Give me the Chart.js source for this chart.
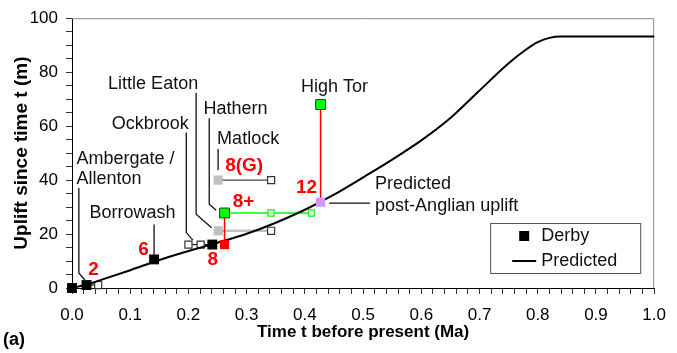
<!DOCTYPE html>
<html>
<head>
<meta charset="utf-8">
<script src="https://cdn.jsdelivr.net/npm/chart.js@4.4.1/dist/chart.umd.min.js"></script>
<style>
  html, body { margin: 0; padding: 0; background: #fff; }
  canvas { display: block; }
</style>
</head>
<body>
<canvas id="uplift" width="677" height="353"></canvas>
<script>
// Predicted uplift curve (time before present in Ma, uplift in m)
const predAge    = [0, 0.025, 0.05, 0.1, 0.15, 0.2, 0.25, 0.3, 0.35, 0.4, 0.45, 0.5, 0.55, 0.6, 0.65, 0.7, 0.75, 0.78, 0.8, 0.82, 0.84, 1.0];
const predUplift = [0, 1.3, 3.0, 6.6, 10.4, 13.7, 16.8, 20.1, 24.2, 29.0, 34.6, 41.0, 47.6, 54.7, 63.0, 73.2, 83.3, 88.4, 91.1, 92.7, 93.2, 93.2];

// Derby terrace sites
const derbyAge    = [0, 0.025, 0.141, 0.241];
const derbyUplift = [0, 1.1, 10.6, 16.1];
const derbyStage  = ['', '2', '6', '8'];

// Age ranges (older limits shown as open squares)
const ambergateAge     = [0.025, 0.045];
const ambergateUplift  = [1.1, 1.1];
const ockbrookAge      = [0.200, 0.221, 0.241];
const ockbrookUplift   = [16.1, 16.1, 16.1];
const littleEatonAge   = [0.251, 0.342];
const littleEatonUplift= [21.2, 21.2];
const matlockAge       = [0.251, 0.342];
const matlockUplift    = [40, 40];
const hathernAge       = [0.262, 0.342, 0.411];
const hathernUplift    = [27.8, 27.8, 27.8];

// Observed vs predicted pairs (observed on top, predicted below)
const hathernPairAge    = [0.262, 0.262];
const hathernPairUplift = [27.8, 16.1];
const highTorPairAge    = [0.427, 0.427];
const highTorPairUplift = [68, 31.8];

// Text labels
const siteNames = ['Ambergate /', 'Allenton', 'Borrowash', 'Ockbrook', 'Little Eaton', 'Hathern', 'Matlock', 'High Tor'];
const stageLabels = ['8+', '8(G)', '12'];
const postAnglianText = ['Predicted', 'post-Anglian uplift'];
const xTitle = 'Time t before present (Ma)';
const yTitle = 'Uplift since time t (m)';
const panelTag = '(a)';

const FONT = "'Liberation Sans', Arial, Helvetica, sans-serif";
const pts = (xs, ys) => xs.map((x, i) => ({ x, y: ys[i] }));

const GREEN = '#00ff00', RED = '#ff0000', GREY = '#c0c0c0', LILAC = '#cc99ff';

const datasets = [
  { label: 'Derby', data: pts(derbyAge, derbyUplift), showLine: false,
    pointStyle: 'rect', pointRadius: 7, pointBackgroundColor: '#000', pointBorderColor: '#000', pointBorderWidth: 0 },
  { label: 'High Tor', data: pts(highTorPairAge, highTorPairUplift), showLine: true,
    borderColor: RED, borderWidth: 1.5, pointStyle: 'rect', pointRadius: [7, 6.5],
    pointBackgroundColor: [GREEN, LILAC], pointBorderColor: ['#333', LILAC], pointBorderWidth: [1, 0] },
  { label: 'Hathern', data: pts(hathernPairAge, hathernPairUplift), showLine: true,
    borderColor: RED, borderWidth: 1.5, pointStyle: 'rect', pointRadius: [7, 6.5],
    pointBackgroundColor: [GREEN, RED], pointBorderColor: ['#333', RED], pointBorderWidth: [1, 0] },
  { label: 'Predicted', data: pts(predAge, predUplift), showLine: true,
    borderColor: '#000', borderWidth: 2, pointRadius: 0, cubicInterpolationMode: 'monotone' },
  { label: 'Hathern range', data: pts(hathernAge, hathernUplift), showLine: true,
    borderColor: GREEN, borderWidth: 1.5, pointStyle: 'rect', pointRadius: [0, 4.3, 4.3],
    pointBackgroundColor: '#fff', pointBorderColor: GREEN, pointBorderWidth: 1.2 },
  { label: 'Little Eaton range', data: pts(littleEatonAge, littleEatonUplift), showLine: true,
    borderColor: GREY, borderWidth: 2.5, pointStyle: 'rect', pointRadius: [6.5, 5],
    pointBackgroundColor: [GREY, '#fff'], pointBorderColor: [GREY, '#333'], pointBorderWidth: [0, 1.2] },
  { label: 'Matlock range', data: pts(matlockAge, matlockUplift), showLine: true,
    borderColor: '#444', borderWidth: 1.2, pointStyle: 'rect', pointRadius: [6.5, 5],
    pointBackgroundColor: [GREY, '#fff'], pointBorderColor: [GREY, '#333'], pointBorderWidth: [0, 1.2] },
  { label: 'Ockbrook range', data: pts(ockbrookAge, ockbrookUplift), showLine: true,
    borderColor: '#222', borderWidth: 1.2, pointStyle: 'rect', pointRadius: [5, 5, 0],
    pointBackgroundColor: '#fff', pointBorderColor: '#333', pointBorderWidth: 1.2 },
  { label: 'Ambergate range', data: pts(ambergateAge, ambergateUplift), showLine: true,
    borderColor: '#222', borderWidth: 1.2, pointStyle: 'rect', pointRadius: [0, 5],
    pointBackgroundColor: '#fff', pointBorderColor: '#333', pointBorderWidth: 1.2 }
].map(d => Object.assign({ clip: false, fill: false, pointHoverRadius: d.pointRadius }, d));

// Site labels with leader lines; offsets in px from the labelled point
const notes = [
  { at: [derbyAge[1], derbyUplift[1]], lines: [siteNames[0], siteNames[1]], dx: -10, dy: [-126, -106], align: 'left',
    leader: [[-7.7, -97], [-7.7, -12], [-1.7, -5]] },
  { at: [derbyAge[2], derbyUplift[2]], lines: [siteNames[2]], dx: -21.5, dy: [-46], align: 'center',
    leader: [[0, -35], [0, -5]] },
  { at: [derbyAge[3], derbyUplift[3]], lines: [siteNames[3]], dx: -62, dy: [-121], align: 'center',
    leader: [[-26, -112], [-26, -12], [-19.5, -4.5]] },
  { at: [littleEatonAge[0], littleEatonUplift[0]], lines: [siteNames[4]], dx: -65, dy: [-147], align: 'center',
    leader: [[-22, -138], [-22, -16.5], [-6.5, -3]] },
  { at: [hathernAge[0], hathernUplift[0]], lines: [siteNames[5]], dx: 11, dy: [-104], align: 'center',
    leader: [[-15.3, -94.7], [-15.3, -8.7], [-8.3, -2.7]] },
  { at: [matlockAge[0], matlockUplift[0]], lines: [siteNames[6]], dx: 30, dy: [-41], align: 'center',
    leader: [[0, -31], [0, -10]] },
  { at: [highTorPairAge[0], highTorPairUplift[0]], lines: [siteNames[7]], dx: 14, dy: [-18], align: 'center' },
  { at: [highTorPairAge[1], highTorPairUplift[1]], lines: postAnglianText, dx: 54.5, dy: [-17.7, 4.3], align: 'left',
    leader: [[8.5, 1], [49.5, 1]] }
];

// Terrace stage numbers (red)
const stages = [
  { at: [derbyAge[1], derbyUplift[1]], text: derbyStage[1], dx: 7, dy: -15 },
  { at: [derbyAge[2], derbyUplift[2]], text: derbyStage[2], dx: -10.5, dy: -10 },
  { at: [derbyAge[3], derbyUplift[3]], text: derbyStage[3], dx: 0.5, dy: 15 },
  { at: [hathernAge[0], hathernUplift[0]], text: stageLabels[0], dx: 19, dy: -11 },
  { at: [matlockAge[0], matlockUplift[0]], text: stageLabels[1], dx: 26, dy: -14 },
  { at: [highTorPairAge[1], highTorPairUplift[1]], text: stageLabels[2], dx: -14, dy: -14 }
];

function anchor(chart, at) {
  return [chart.scales.x.getPixelForValue(at[0]), chart.scales.y.getPixelForValue(at[1])];
}

const overlay = {
  id: 'overlay',
  beforeDatasetsDraw(chart) {
    const { ctx, chartArea: a } = chart;
    ctx.save();
    // plot frame (top and right)
    ctx.strokeStyle = '#8a8a8a';
    ctx.lineWidth = 1;
    ctx.beginPath();
    ctx.moveTo(a.left, a.top + 0.5);
    ctx.lineTo(a.right - 0.5, a.top + 0.5);
    ctx.lineTo(a.right - 0.5, a.bottom);
    ctx.stroke();
    // leader lines
    ctx.strokeStyle = '#111';
    ctx.lineWidth = 1.3;
    for (const n of notes) {
      if (!n.leader) continue;
      const [px, py] = anchor(chart, n.at);
      ctx.beginPath();
      n.leader.forEach(([dx, dy], i) => i ? ctx.lineTo(px + dx, py + dy) : ctx.moveTo(px + dx, py + dy));
      ctx.stroke();
    }
    ctx.restore();
  },
  afterDatasetsDraw(chart) {
    const { ctx, chartArea: a } = chart;
    ctx.save();
    ctx.textBaseline = 'middle';
    ctx.fillStyle = '#111';
    ctx.font = `18px ${FONT}`;
    for (const n of notes) {
      const [px, py] = anchor(chart, n.at);
      ctx.textAlign = n.align;
      n.lines.forEach((t, i) => ctx.fillText(t, px + n.dx, py + n.dy[i]));
    }
    ctx.fillStyle = RED;
    ctx.font = `bold 19px ${FONT}`;
    ctx.textAlign = 'center';
    for (const s of stages) {
      const [px, py] = anchor(chart, s.at);
      ctx.fillText(s.text, px + s.dx, py + s.dy);
    }

    // legend
    const ds = chart.data.datasets;
    const lx = a.right - 164, ly = a.bottom - 65, lw = 150, lh = 50;
    ctx.fillStyle = '#fff';
    ctx.fillRect(lx, ly, lw, lh);
    ctx.strokeStyle = '#555';
    ctx.lineWidth = 1;
    ctx.strokeRect(lx + 0.5, ly + 0.5, lw, lh);
    ctx.fillStyle = ds[0].pointBackgroundColor;
    ctx.fillRect(lx + 29, ly + 8, 10, 10);
    ctx.strokeStyle = ds[3].borderColor;
    ctx.lineWidth = ds[3].borderWidth;
    ctx.beginPath();
    ctx.moveTo(lx + 22, ly + 38);
    ctx.lineTo(lx + 46, ly + 38);
    ctx.stroke();
    ctx.fillStyle = '#111';
    ctx.font = `18px ${FONT}`;
    ctx.textAlign = 'left';
    ctx.fillText(ds[0].label, lx + 51, ly + 13);
    ctx.fillText(ds[3].label, lx + 51, ly + 38);

    // panel tag
    ctx.fillStyle = '#000';
    ctx.font = `bold 18px ${FONT}`;
    ctx.fillText(panelTag, 3, 340);
    ctx.restore();
  }
};

new Chart(document.getElementById('uplift'), {
  type: 'scatter',
  data: { datasets },
  plugins: [overlay],
  options: {
    responsive: false,
    animation: false,
    devicePixelRatio: 1,
    layout: { padding: { top: 13, right: 16, left: 0, bottom: 0 } },
    plugins: { legend: { display: false }, tooltip: { enabled: false } },
    scales: {
      x: {
        type: 'linear', min: 0, max: 1,
        afterFit(s) { s.height = 65; },
        border: { color: '#000', width: 1 },
        grid: { drawOnChartArea: false, drawTicks: true, tickLength: 6, color: '#333' },
        ticks: {
          stepSize: 0.02, autoSkip: false, maxRotation: 0, padding: 11, color: '#000',
          font: { family: FONT, size: 17 },
          callback: v => Math.abs(v * 10 - Math.round(v * 10)) < 1e-6 ? v.toFixed(1) : ''
        },
        title: { display: true, text: xTitle, color: '#000',
          font: { family: FONT, size: 17, weight: 'bold' }, padding: { top: 0, bottom: 10 } }
      },
      y: {
        type: 'linear', min: 0, max: 100,
        afterFit(s) { s.width = 72; },
        border: { color: '#000', width: 1 },
        grid: { drawOnChartArea: false, drawTicks: true, tickLength: 6, color: '#333' },
        ticks: {
          stepSize: 5, autoSkip: false, padding: 8, color: '#000',
          font: { family: FONT, size: 17 },
          callback: v => v % 20 === 0 ? String(v) : ''
        },
        title: { display: true, text: yTitle, color: '#000',
          font: { family: FONT, size: 19, weight: 'bold' }, padding: { top: 10, bottom: 0 } }
      }
    }
  }
});
</script>
</body>
</html>
